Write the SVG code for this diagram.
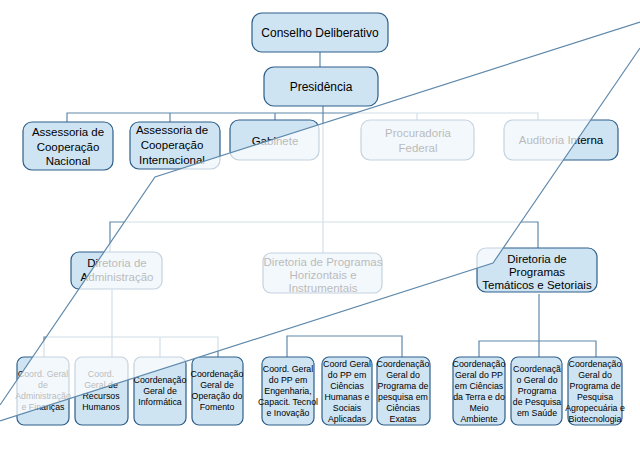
<svg xmlns="http://www.w3.org/2000/svg" width="640" height="460" viewBox="0 0 640 460">
<style>
.b{fill:#cfe4f3;stroke:#2d5f8a;stroke-width:1.2}
.c{fill:none;stroke:#5f89ab;stroke-width:1.2}
text{font-family:"Liberation Sans",Arial,sans-serif;fill:#000;text-anchor:middle}
.t{font-size:12px}.m{font-size:11.5px}.s{font-size:8.8px}
</style>
<rect width="640" height="460" fill="#fff"/>
<g id="connectors" class="c">
<path d="M320 52V67M323 106V253M67 122V113H538V120M170 113V122M275 113V120M417 113V120"/>
<path d="M110 252V222H538V248"/>
<path d="M44 357V337H218V357M112 290V357M160 337V357"/>
<path d="M287 357V336H402V357"/>
<path d="M539 294V357M479 357V341H596V357"/>
</g>
<g id="n1"><rect class="b" x="252" y="13" width="136" height="39" rx="10"/><text class="t" x="320" y="37">Conselho Deliberativo</text></g>
<g id="n2"><rect class="b" x="264" y="67" width="114" height="39" rx="10"/><text class="t" x="321" y="91">Presidência</text></g>
<g id="n3"><rect class="b" x="23" y="122" width="90" height="48" rx="9"/><text class="m" x="68" y="136">Assessoria de</text><text class="m" x="68" y="151">Cooperação</text><text class="m" x="68" y="165">Nacional</text></g>
<g id="n4"><rect class="b" x="130" y="122" width="90" height="47" rx="9"/><text class="m" x="172" y="134">Assessoria de</text><text class="m" x="172" y="149">Cooperação</text><text class="m" x="172" y="164">Internacional</text></g>
<g id="n5"><rect class="b" x="230" y="120" width="89" height="40" rx="9"/><text class="m" x="275" y="145">Gabinete</text></g>
<g id="n6"><rect class="b" x="361" y="120" width="113" height="40" rx="9"/><text class="m" x="418" y="137">Procuradoria</text><text class="m" x="418" y="152">Federal</text></g>
<g id="n7"><rect class="b" x="504" y="120" width="114" height="40" rx="9"/><text class="m" x="561" y="144">Auditoria Interna</text></g>
<g id="n8"><rect class="b" x="71" y="252" width="91" height="37" rx="8"/><text class="m" x="117" y="267">Diretoria de</text><text class="m" x="117" y="281">Administração</text></g>
<g id="n9"><rect class="b" x="263" y="253" width="119" height="40" rx="8"/><text class="m" x="323" y="266">Diretoria de Programas</text><text class="m" x="323" y="279">Horizontais e</text><text class="m" x="323" y="292">Instrumentais</text></g>
<g id="n10"><rect class="b" x="477" y="248" width="120" height="44" rx="9"/><text class="m" x="537" y="263">Diretoria de</text><text class="m" x="537" y="276">Programas</text><text class="m" x="537" y="289">Temáticos e Setoriais</text></g>
<g id="n11"><rect class="b" x="17" y="357" width="52" height="68" rx="7"/><text class="s" x="43" y="377">Coord. Geral</text><text class="s" x="43" y="388">de</text><text class="s" x="43" y="399">Administração</text><text class="s" x="43" y="410">e Finanças</text></g>
<g id="n12"><rect class="b" x="75" y="357" width="53" height="68" rx="7"/><text class="s" x="101" y="377">Coord.</text><text class="s" x="101" y="388">Geral de</text><text class="s" x="101" y="399">Recursos</text><text class="s" x="101" y="410">Humanos</text></g>
<g id="n13"><rect class="b" x="134" y="357" width="52" height="68" rx="7"/><text class="s" x="160" y="383">Coordenação</text><text class="s" x="160" y="394">Geral de</text><text class="s" x="160" y="405">Informática</text></g>
<g id="n14"><rect class="b" x="192" y="357" width="51" height="68" rx="7"/><text class="s" x="217" y="377">Coordenação</text><text class="s" x="217" y="388">Geral de</text><text class="s" x="217" y="399">Operação do</text><text class="s" x="217" y="410">Fomento</text></g>
<g id="n15"><rect class="b" x="262" y="357" width="52" height="68" rx="7"/><text class="s" x="288" y="372">Coord. Geral</text><text class="s" x="288" y="383">do PP em</text><text class="s" x="288" y="394">Engenharia,</text><text class="s" x="288" y="405">Capacit. Tecnol</text><text class="s" x="288" y="416">e Inovação</text></g>
<g id="n16"><rect class="b" x="322" y="357" width="50" height="68" rx="7"/><text class="s" x="347" y="367">Coord Geral</text><text class="s" x="347" y="378">do PP em</text><text class="s" x="347" y="389">Ciências</text><text class="s" x="347" y="400">Humanas e</text><text class="s" x="347" y="411">Sociais</text><text class="s" x="347" y="422">Aplicadas</text></g>
<g id="n17"><rect class="b" x="377" y="357" width="53" height="68" rx="7"/><text class="s" x="403" y="367">Coordenação</text><text class="s" x="403" y="378">Geral do</text><text class="s" x="403" y="389">Programa de</text><text class="s" x="403" y="400">pesquisa em</text><text class="s" x="403" y="411">Ciências</text><text class="s" x="403" y="422">Exatas</text></g>
<g id="n18"><rect class="b" x="453" y="357" width="52" height="68" rx="7"/><text class="s" x="479" y="367">Coordenação</text><text class="s" x="479" y="378">Geral do PP</text><text class="s" x="479" y="389">em Ciências</text><text class="s" x="479" y="400">da Terra e do</text><text class="s" x="479" y="411">Meio</text><text class="s" x="479" y="422">Ambiente</text></g>
<g id="n19"><rect class="b" x="511" y="357" width="51" height="68" rx="7"/><text class="s" x="537" y="372">Coordenaçã</text><text class="s" x="537" y="383">o Geral do</text><text class="s" x="537" y="394">Programa</text><text class="s" x="537" y="405">de Pesquisa</text><text class="s" x="537" y="416">em Saúde</text></g>
<g id="n20"><rect class="b" x="568" y="357" width="54" height="68" rx="7"/><text class="s" x="595" y="367">Coordenação</text><text class="s" x="595" y="378">Geral do</text><text class="s" x="595" y="389">Programa de</text><text class="s" x="595" y="400">Pesquisa</text><text class="s" x="595" y="411">Agropecuária e</text><text class="s" x="595" y="422">Biotecnologia</text></g>
<polygon points="640,22 155,177 0,405 0,421 493,263 640,48" fill="#fff" opacity="0.72"/>
<path d="M640 22L155 177L0 405M640 48L493 263L0 421" fill="none" stroke="#5f89ab" stroke-width="1.2"/>
</svg>
